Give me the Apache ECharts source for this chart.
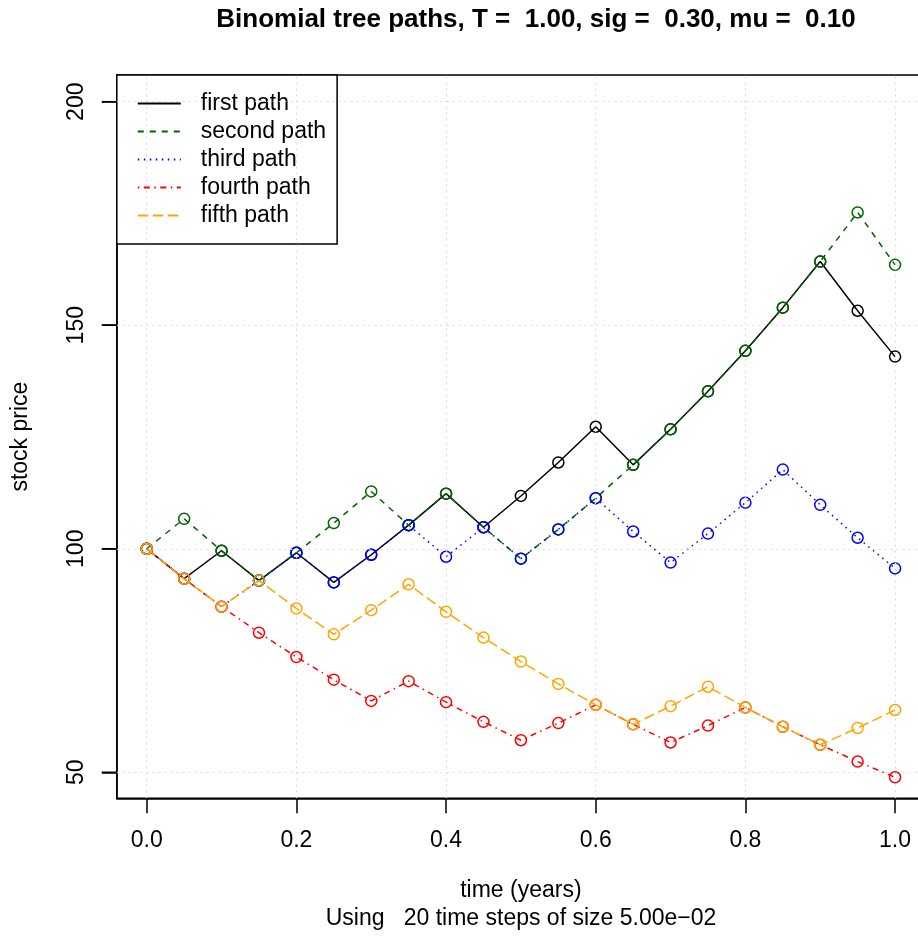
<!DOCTYPE html>
<html>
<head>
<meta charset="utf-8">
<script src="https://cdn.jsdelivr.net/npm/echarts@6/dist/echarts.min.js"></script>
<style>
  html, body { margin: 0; padding: 0; background: #fff; }
  #chart { width: 918px; height: 941px; }
</style>
</head>
<body>
<div id="chart"></div>
<script>
// time grid (years)
const times = [0, 0.05, 0.1, 0.15, 0.2, 0.25, 0.3, 0.35, 0.4, 0.45, 0.5,
  0.55, 0.6, 0.65, 0.7, 0.75, 0.8, 0.85, 0.9, 0.95, 1.0]

// stock price along each path
const firstPath = [100, 93.30, 99.55, 92.88, 99.10, 92.47, 98.66, 105.27, 112.32, 104.80, 111.81,
  119.30, 127.29, 118.77, 126.72, 135.21, 144.27, 153.93, 164.24, 153.24, 142.98]
const secondPath = [100, 106.70, 99.55, 92.88, 99.10, 105.74, 112.82, 105.27, 112.32, 104.80, 97.78,
  104.32, 111.31, 118.77, 126.72, 135.21, 144.27, 153.93, 164.24, 175.24, 163.50]
const thirdPath = [100, 93.30, 87.05, 92.88, 99.10, 92.47, 98.66, 105.27, 98.22, 104.80, 97.78,
  104.32, 111.31, 103.86, 96.90, 103.39, 110.31, 117.70, 109.82, 102.46, 95.60]
const fourthPath = [100, 93.30, 87.05, 81.22, 75.78, 70.71, 65.97, 70.39, 65.68, 61.28, 57.17,
  61.00, 65.09, 60.73, 56.66, 60.45, 64.50, 60.18, 56.15, 52.39, 48.88]
const fifthPath = [100, 93.30, 87.05, 92.88, 86.66, 80.86, 86.27, 92.05, 85.89, 80.13, 74.77,
  69.76, 65.09, 60.73, 64.79, 69.14, 64.50, 60.18, 56.15, 59.91, 63.93]

const pathNames = ['first path', 'second path', 'third path', 'fourth path', 'fifth path']

// tick labels
const xTicks = [0, 0.2, 0.4, 0.6, 0.8, 1.0]
const yTicks = [50, 100, 150, 200]

// axis ranges (R pads the data range by 4%)
const xMin = -0.04, xMax = 1.04
const yMin = 44.18, yMax = 205.97

const FONT = '"Liberation Sans", Arial, sans-serif'

const styles = [
  { color: '#000000', type: 'solid' },
  { color: '#006400', type: [6, 6] },
  { color: '#0000ff', type: [1.5, 4.5] },
  { color: '#ff0000', type: [1.5, 4.5, 6, 4.5] },
  { color: '#ffa500', type: [10.5, 4.5] }
]

const allPaths = [firstPath, secondPath, thirdPath, fourthPath, fifthPath]

const chart = echarts.init(document.getElementById('chart'), null, { renderer: 'canvas' })

const series = allPaths.map((vals, i) => ({
  name: pathNames[i],
  type: 'line',
  z: 2 + i,
  data: times.map((t, k) => [t, vals[k]]),
  showAllSymbol: true,
  symbol: 'circle',
  symbolSize: 11,
  itemStyle: { color: 'rgba(0,0,0,0)', borderColor: styles[i].color, borderWidth: 1.5 },
  lineStyle: { color: styles[i].color, width: 1.5, type: styles[i].type, cap: 'butt' },
  emphasis: { disabled: true }
}))

// R grid(): light grey dotted lines at the ticks, hung on the first path
series[0].markLine = {
  silent: true,
  symbol: ['none', 'none'],
  label: { show: false },
  lineStyle: { color: '#d3d3d3', width: 1.2, type: [1.5, 4.5] },
  emphasis: { disabled: true },
  animation: false,
  data: xTicks.map(v => ({ xAxis: v })).concat(yTicks.map(v => ({ yAxis: v })))
}

// y axis ticks (the axis' own ticks do not show up here), drawn at the left edge
series.push({
  name: 'yticks',
  type: 'custom',
  silent: true,
  z: 20,
  clip: false,
  data: yTicks.map(v => [xMin, v]),
  renderItem: function (params, api) {
    const p = api.coord([api.value(0), api.value(1)])
    return {
      type: 'line',
      shape: { x1: p[0] - 15, y1: p[1], x2: p[0], y2: p[1] },
      style: { stroke: '#000', lineWidth: 1.5 }
    }
  }
})

chart.setOption({
  animation: false,
  backgroundColor: '#fff',
  grid: {
    left: 116.8,
    top: 75,
    width: 808.2,
    height: 723.3,
    outerBoundsMode: 'none',
    containLabel: false,
    show: true,
    borderColor: '#000',
    borderWidth: 1.5,
    backgroundColor: 'transparent'
  },
  xAxis: {
    type: 'value',
    min: xMin,
    max: xMax,
    axisLine: { show: true, onZero: false, lineStyle: { color: '#000', width: 1.5 } },
    splitLine: { show: false },
    axisTick: { show: true, length: 15, customValues: xTicks, lineStyle: { color: '#000', width: 1.5 } },
    axisLabel: {
      customValues: xTicks,
      margin: 31,
      fontSize: 23,
      fontFamily: FONT,
      color: '#000',
      formatter: v => v.toFixed(1)
    },
    name: 'time (years)',
    nameLocation: 'middle',
    nameGap: 81,
    nameTextStyle: { fontSize: 23, fontFamily: FONT, color: '#000' }
  },
  yAxis: {
    type: 'value',
    min: yMin,
    max: yMax,
    axisLine: { show: true, onZero: false, lineStyle: { color: '#000', width: 1.5 } },
    axisTick: { show: true, length: 15, customValues: yTicks, lineStyle: { color: '#000', width: 1.5 } },
    splitLine: { show: false },
    axisLabel: {
      customValues: yTicks,
      rotate: 90,
      margin: 29,
      fontSize: 23,
      fontFamily: FONT,
      color: '#000'
    },
    name: 'stock price',
    nameLocation: 'middle',
    nameGap: 85,
    nameRotate: 90,
    nameTextStyle: { fontSize: 23, fontFamily: FONT, color: '#000' }
  },
  legend: {
    data: pathNames,
    orient: 'vertical',
    left: 116.8,
    top: 75,
    itemWidth: 43,
    itemHeight: 14,
    itemGap: 5,
    padding: [17, 11, 17, 20],
    borderColor: '#000',
    borderWidth: 1.5,
    borderRadius: 0,
    backgroundColor: '#fff',
    selectedMode: false,
    itemStyle: { color: 'rgba(0,0,0,0)', borderColor: 'rgba(0,0,0,0)', borderWidth: 0 },
    textStyle: { fontSize: 23, fontFamily: FONT, color: '#000', padding: [0, 0, 0, 15] }
  },
  graphic: [
    {
      type: 'text',
      x: 536,
      y: 20,
      style: {
        text: 'Binomial tree paths, T =  1.00, sig =  0.30, mu =  0.10',
        font: 'bold 26px ' + FONT,
        fill: '#000',
        textAlign: 'center',
        textVerticalAlign: 'middle'
      }
    },
    {
      type: 'text',
      x: 521,
      y: 919,
      style: {
        text: 'Using   20 time steps of size 5.00e\u221202',
        font: '23px ' + FONT,
        fill: '#000',
        textAlign: 'center',
        textVerticalAlign: 'middle'
      }
    }
  ],
  series: series
})
</script>
</body>
</html>
